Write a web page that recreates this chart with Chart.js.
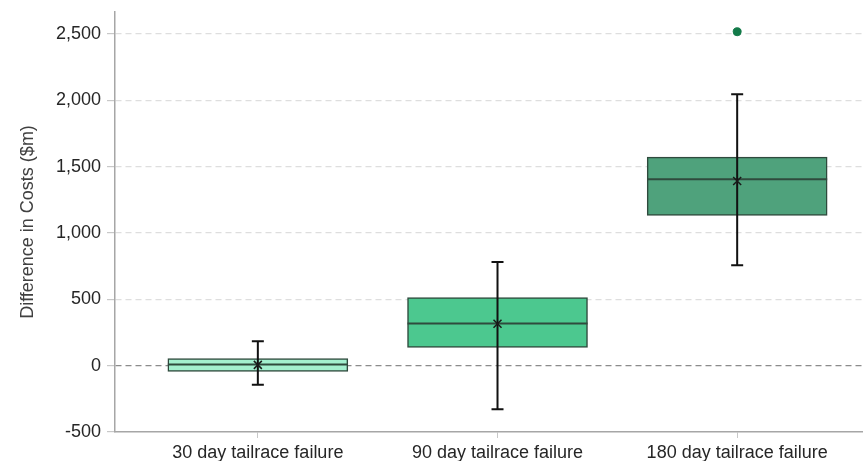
<!DOCTYPE html>
<html>
<head>
<meta charset="utf-8">
<script src="https://cdn.jsdelivr.net/npm/chart.js@4/dist/chart.umd.min.js"></script>
<style>
  html, body { margin: 0; padding: 0; background: #ffffff; }
  #wrap { width: 863px; height: 461px; }
</style>
</head>
<body>
<div id="wrap"><canvas id="chart" width="863" height="461"></canvas></div>
<script>
// Scenario names shown along the x axis
const categories = ['30 day tailrace failure', '90 day tailrace failure', '180 day tailrace failure'];

// Box-and-whisker statistics per scenario ($m)
const q1Values = [-43, 138, 1133];
const q3Values = [53, 513, 1571];
const medianValues = [8, 318, 1404];
const meanValues = [6, 316, 1391];
const whiskerLow = [-143, -329, 757];
const whiskerHigh = [183, 782, 2045];
const outlierValues = [[], [], [2516]];

// Y axis tick values
const yTicks = [-500, 0, 500, 1000, 1500, 2000, 2500];

const boxColors = ['#a3f0cf', '#4cc88f', '#4fa27c'];
const boxBorder = '#2f4a3d';

const positions = categories.map((c, i) => i + 1);

const boxData = positions.map((x, i) => ({ x: x, y: [q1Values[i], q3Values[i]] }));
const outlierData = [];
outlierValues.forEach((list, i) => list.forEach(v => outlierData.push({ x: positions[i], y: v })));

// Medians, whiskers and mean markers drawn on top of the boxes
const boxExtras = {
  id: 'boxExtras',
  afterDatasetsDraw(chart) {
    const { ctx, scales: { x, y } } = chart;
    const meta = chart.getDatasetMeta(0);
    ctx.save();
    positions.forEach((pos, i) => {
      const bar = meta.data[i];
      const half = bar.width / 2;
      const cx = x.getPixelForValue(pos);
      // median
      const my = y.getPixelForValue(medianValues[i]);
      ctx.strokeStyle = boxBorder;
      ctx.lineWidth = 2;
      ctx.beginPath();
      ctx.moveTo(cx - half, my);
      ctx.lineTo(cx + half, my);
      ctx.stroke();
      // whiskers
      const lo = y.getPixelForValue(whiskerLow[i]);
      const hi = y.getPixelForValue(whiskerHigh[i]);
      ctx.strokeStyle = '#111111';
      ctx.lineWidth = 2;
      ctx.beginPath();
      ctx.moveTo(cx, lo); ctx.lineTo(cx, hi);
      ctx.moveTo(cx - 6, lo); ctx.lineTo(cx + 6, lo);
      ctx.moveTo(cx - 6, hi); ctx.lineTo(cx + 6, hi);
      ctx.stroke();
      // mean marker
      const ey = y.getPixelForValue(meanValues[i]);
      ctx.strokeStyle = '#1a1a1a';
      ctx.lineWidth = 1.5;
      ctx.beginPath();
      ctx.moveTo(cx - 4, ey - 4); ctx.lineTo(cx + 4, ey + 4);
      ctx.moveTo(cx - 4, ey + 4); ctx.lineTo(cx + 4, ey - 4);
      ctx.stroke();
    });
    ctx.restore();
  }
};

new Chart(document.getElementById('chart'), {
  type: 'bar',
  data: {
    datasets: [
      {
        type: 'bar',
        label: 'Interquartile range',
        data: boxData,
        backgroundColor: boxColors,
        borderColor: boxBorder,
        borderWidth: 1.5,
        borderSkipped: false,
        barThickness: 180,
        grouped: false,
        order: 2
      },
      {
        type: 'scatter',
        label: 'Outliers',
        data: outlierData,
        pointRadius: 4,
        pointBackgroundColor: '#137a49',
        pointBorderColor: '#137a49',
        order: 1
      }
    ]
  },
  options: {
    responsive: false,
    animation: false,
    devicePixelRatio: 1,
    layout: { autoPadding: false, padding: { top: 12, right: 0, bottom: 0, left: 0 } },
    plugins: {
      legend: { display: false },
      tooltip: { enabled: false }
    },
    scales: {
      x: {
        type: 'linear',
        offset: false,
        min: 0.404,
        max: 3.525,
        afterBuildTicks(scale) { scale.ticks = positions.map(v => ({ value: v })); },
        afterFit(scale) {
          scale.height = 29;
          scale.paddingLeft = 0;
          scale.paddingRight = 0;
        },
        ticks: {
          callback: (v) => categories[Math.round(v) - 1] || '',
          font: { family: 'Liberation Sans, Arial, sans-serif', size: 18 },
          color: '#262626',
          padding: 4,
          maxRotation: 0,
          autoSkip: false
        },
        grid: {
          offset: false,
          drawOnChartArea: false,
          drawTicks: true,
          tickLength: 6,
          tickColor: '#c8c8c8'
        },
        border: { display: true, color: '#a6a6a6', width: 1.5 }
      },
      y: {
        type: 'linear',
        min: -500,
        max: 2665,
        afterBuildTicks(scale) { scale.ticks = yTicks.map(v => ({ value: v })); },
        afterFit(scale) {
          scale.width = 115;
          scale.paddingTop = 0;
          scale.paddingBottom = 0;
        },
        ticks: {
          callback: (v) => Number(v).toLocaleString('en-US'),
          font: { family: 'Liberation Sans, Arial, sans-serif', size: 18 },
          color: '#262626',
          padding: 6
        },
        grid: {
          drawTicks: true,
          tickLength: 8,
          tickColor: '#c8c8c8',
          tickBorderDash: [],
          color: (ctx) => {
            const v = ctx.tick ? ctx.tick.value : null;
            if (v === 0) return '#8c8c8c';
            if (v === -500) return 'rgba(0,0,0,0)';
            return '#dedede';
          },
          lineWidth: 1.2
        },
        border: { display: true, color: '#a6a6a6', width: 1.5, dash: [6, 4] },
        title: {
          display: true,
          text: 'Difference in Costs ($m)',
          font: { family: 'Liberation Sans, Arial, sans-serif', size: 18 },
          color: '#404040',
          padding: { top: 17, bottom: 0 }
        }
      }
    }
  },
  plugins: [boxExtras]
});
</script>
</body>
</html>
